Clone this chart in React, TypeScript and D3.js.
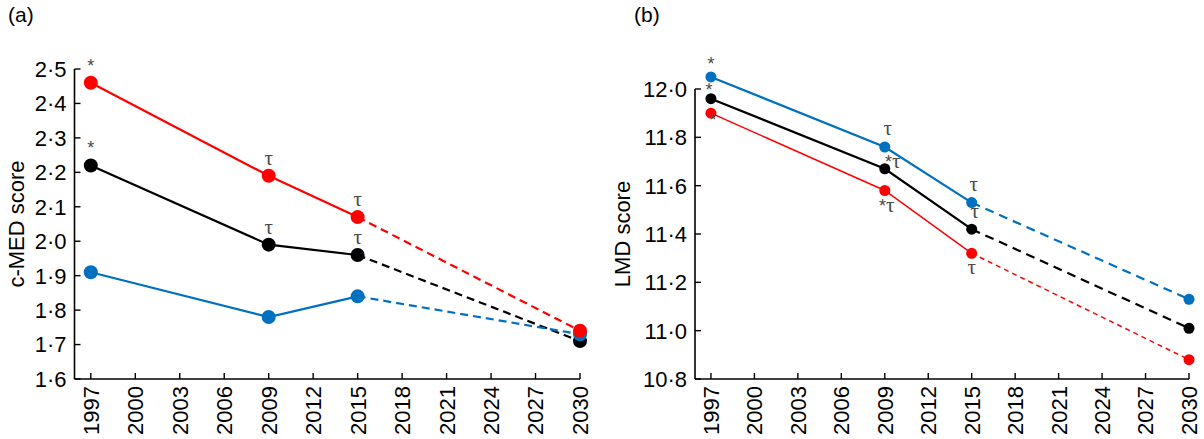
import React, { useEffect, useRef } from 'react';
import * as d3 from 'd3';

// survey years and projection year
const years = [1997, 2009, 2015, 2030];
const yearTicks = [1997, 2000, 2003, 2006, 2009, 2012, 2015, 2018, 2021, 2024, 2027, 2030];

// (a) c-MED score
const medTicks = [1.6, 1.7, 1.8, 1.9, 2.0, 2.1, 2.2, 2.3, 2.4, 2.5];
const medRed = [2.46, 2.19, 2.07, 1.74];
const medBlack = [2.22, 1.99, 1.96, 1.71];
const medBlue = [1.91, 1.78, 1.84, 1.73];
const medRedMarks = ['*', 'τ', 'τ', ''];
const medBlackMarks = ['*', 'τ', 'τ', ''];
const medBlueMarks = ['', '', '', ''];

// (b) LMD score
const lmdTicks = [10.8, 11.0, 11.2, 11.4, 11.6, 11.8, 12.0];
const lmdBlue = [12.05, 11.76, 11.53, 11.13];
const lmdBlack = [11.96, 11.67, 11.42, 11.01];
const lmdRed = [11.9, 11.58, 11.32, 10.88];
const lmdBlueMarks = ['*', 'τ', 'τ', ''];
const lmdBlackMarks = ['*', '*τ', 'τ', ''];
const lmdRedMarks = ['*', '*τ', 'τ', ''];

const RED = '#ff0000';
const BLUE = '#0070c0';
const BLACK = '#000000';

interface Series {
  values: number[];
  marks: string[];
  color: string;
  width: number;
  dash: string;
  r: number;
  // label offsets (dx, dy) from each point
  offsets: [number, number][];
}

interface PanelOpts {
  tag: string;
  title: string;
  ticks: number[];
  xRange: [number, number];
  yRange: [number, number];
  tagX: number;
  titleX: number;
  series: Series[];
}

const fmt = (v: number) => v.toFixed(1).replace('.', '·');
const font = 'Liberation Sans, Arial, sans-serif';

function drawPanel(svg: d3.Selection<SVGSVGElement, unknown, null, undefined>, o: PanelOpts) {
  const g = svg.append('g');
  const [x0, x1] = o.xRange;
  const [yb, yt] = o.yRange;
  // 1997 sits a bit inside the axis start
  const x = d3.scaleLinear().domain([1995.9, 2030]).range([x0, x1]);
  const y = d3.scaleLinear().domain([o.ticks[0], o.ticks[o.ticks.length - 1]]).range([yb, yt]);

  // axes
  g.append('line').attr('x1', x0).attr('x2', x0).attr('y1', yt).attr('y2', yb)
    .attr('stroke', '#000').attr('stroke-width', 1.6);
  g.append('line').attr('x1', x0).attr('x2', x1).attr('y1', yb).attr('y2', yb)
    .attr('stroke', '#000').attr('stroke-width', 1.6);

  o.ticks.forEach((t) => {
    g.append('line').attr('x1', x0).attr('x2', x0 + 6).attr('y1', y(t)).attr('y2', y(t))
      .attr('stroke', '#000').attr('stroke-width', 1.4);
    g.append('text').attr('x', x0 - 8).attr('y', y(t)).attr('dy', '0.36em')
      .attr('text-anchor', 'end').attr('font-family', font).attr('font-size', 22)
      .text(fmt(t));
  });

  yearTicks.forEach((yr) => {
    g.append('line').attr('x1', x(yr)).attr('x2', x(yr)).attr('y1', yb).attr('y2', yb - 6)
      .attr('stroke', '#000').attr('stroke-width', 1.4);
    g.append('text')
      .attr('transform', `translate(${x(yr)},${yb + 7}) rotate(-90)`)
      .attr('dy', '0.36em').attr('text-anchor', 'end')
      .attr('font-family', font).attr('font-size', 22)
      .text(yr);
  });

  g.append('text')
    .attr('transform', `translate(${o.titleX},${(yt + yb) / 2}) rotate(-90)`)
    .attr('dy', '0.36em').attr('text-anchor', 'middle')
    .attr('font-family', font).attr('font-size', 22)
    .text(o.title);

  g.append('text').attr('x', o.tagX).attr('y', 22)
    .attr('font-family', font).attr('font-size', 21).text(o.tag);

  const line = d3.line<number>().x((_, i) => x(years[i])).y((d) => y(d));

  o.series.forEach((s) => {
    g.append('path').attr('d', line(s.values.slice(0, 3)) || '')
      .attr('fill', 'none').attr('stroke', s.color).attr('stroke-width', s.width);
    g.append('path')
      .attr('d', line(s.values.slice(2)) ? `M${x(years[2])},${y(s.values[2])}L${x(years[3])},${y(s.values[3])}` : '')
      .attr('fill', 'none').attr('stroke', s.color).attr('stroke-width', s.width)
      .attr('stroke-dasharray', s.dash);
  });

  o.series.forEach((s) => {
    s.values.forEach((v, i) => {
      g.append('circle').attr('cx', x(years[i])).attr('cy', y(v)).attr('r', s.r).attr('fill', s.color);
    });
  });

  o.series.forEach((s) => {
    s.marks.forEach((m, i) => {
      if (!m) return;
      const [dx, dy] = s.offsets[i];
      const t = g.append('text')
        .attr('x', x(years[i]) + dx).attr('y', y(s.values[i]) + dy)
        .attr('text-anchor', 'middle').attr('fill', '#4a4a4a');
      m.split('').forEach((ch) => {
        if (ch === '*') {
          t.append('tspan').attr('font-family', font).attr('font-size', 18).text('*');
        } else {
          t.append('tspan').attr('font-family', 'Liberation Serif, DejaVu Serif, serif')
            .attr('font-size', 21).text(ch);
        }
      });
    });
  });
}

const App: React.FC = () => {
  const svgRef = useRef<SVGSVGElement>(null);

  useEffect(() => {
    if (!svgRef.current) return;
    const svg = d3.select(svgRef.current);
    svg.selectAll('*').remove();

    drawPanel(svg, {
      tag: '(a)',
      title: 'c-MED score',
      ticks: medTicks,
      xRange: [74.5, 580],
      yRange: [379, 69],
      tagX: 8,
      titleX: 16,
      series: [
        { values: medBlack, marks: medBlackMarks, color: BLACK, width: 2.2, dash: '8,5', r: 7,
          offsets: [[0, -11], [0, -11], [0, -11], [0, 0]] },
        { values: medBlue, marks: medBlueMarks, color: BLUE, width: 2.2, dash: '8,5', r: 7,
          offsets: [[0, 0], [0, 0], [0, 0], [0, 0]] },
        { values: medRed, marks: medRedMarks, color: RED, width: 2.2, dash: '8,5', r: 7,
          offsets: [[0, -11], [0, -11], [0, -11], [0, 0]] },
      ],
    });

    drawPanel(svg, {
      tag: '(b)',
      title: 'LMD score',
      ticks: lmdTicks,
      xRange: [695, 1189],
      yRange: [379, 89],
      tagX: 634,
      titleX: 622,
      series: [
        { values: lmdBlack, marks: lmdBlackMarks, color: BLACK, width: 2.2, dash: '9,6', r: 5.5,
          offsets: [[-2, -3], [8, -1], [3, -11], [0, 0]] },
        { values: lmdBlue, marks: lmdBlueMarks, color: BLUE, width: 2.2, dash: '9,6', r: 5.5,
          offsets: [[0, -7], [3, -12], [2, -12], [0, 0]] },
        { values: lmdRed, marks: lmdRedMarks, color: RED, width: 1.5, dash: '5,4', r: 5.5,
          offsets: [[2, 13], [2, 21], [0, 21], [0, 0]] },
      ],
    });
  }, []);

  return (
    <svg ref={svgRef} width={1204} height={439}
      style={{ position: 'absolute', left: 0, top: 0, background: '#fff' }} />
  );
};

export default App;
